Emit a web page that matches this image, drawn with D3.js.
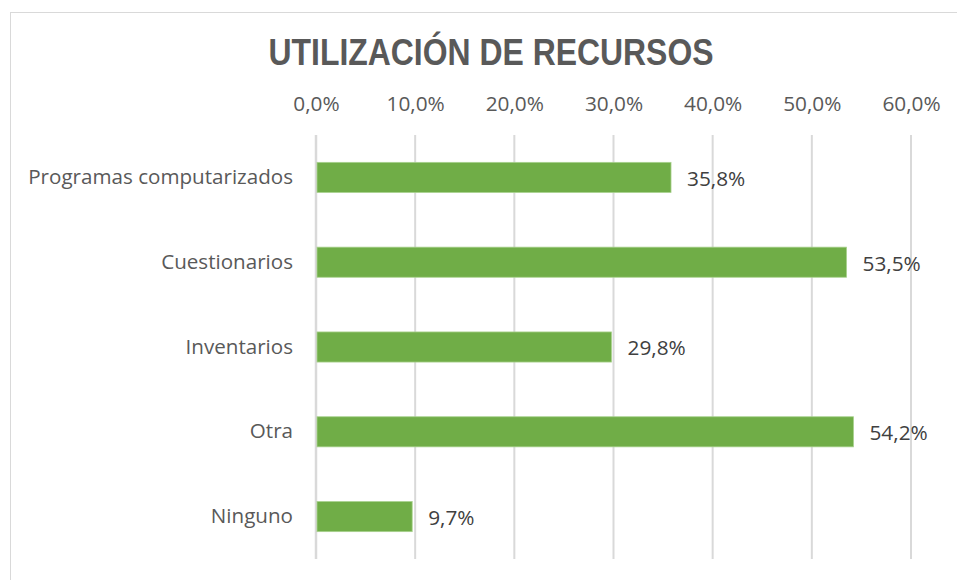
<!DOCTYPE html>
<html>
<head>
<meta charset="utf-8">
<script src="https://cdn.jsdelivr.net/npm/d3@7"></script>
<style>
  body { margin: 0; background: #fff; }
  svg { display: block; }
</style>
</head>
<body>
<svg id="chart"></svg>
<script>
// data
const categories = ["Programas computarizados", "Cuestionarios", "Inventarios", "Otra", "Ninguno"];
const values = [35.8, 53.5, 29.8, 54.2, 9.7];
const ticks = [0, 10, 20, 30, 40, 50, 60];
const title = "UTILIZACIÓN DE RECURSOS";

const width = 957, height = 580;
const plotLeft = 316, plotRight = 911, plotTop = 135, plotBottom = 559;
const fmt = v => d3.format(".1f")(v).replace(".", ",") + "%";

const svg = d3.select("#chart")
    .attr("width", width)
    .attr("height", height);

// chart border
svg.append("rect")
    .attr("x", 10.5).attr("y", 12.5)
    .attr("width", 960).attr("height", 600)
    .attr("fill", "none")
    .attr("stroke", "#d9d9d9");

svg.append("text")
    .attr("x", 491).attr("y", 65)
    .attr("text-anchor", "middle")
    .attr("font-family", "Liberation Sans Narrow, Liberation Sans, Arial, sans-serif")
    .attr("font-weight", "bold")
    .attr("font-size", 37)
    .attr("fill", "#595959")
    .attr("textLength", 445)
    .attr("lengthAdjust", "spacingAndGlyphs")
    .text(title);

const x = d3.scaleLinear().domain([0, 60]).range([plotLeft, plotRight]);
const y = d3.scaleBand().domain(categories).range([plotTop, plotBottom])
    .paddingInner(0.645).paddingOuter(0.3225);

// gridlines
svg.append("g")
    .selectAll("line")
    .data(ticks)
    .join("line")
    .attr("x1", d => x(d)).attr("x2", d => x(d))
    .attr("y1", plotTop).attr("y2", plotBottom)
    .attr("stroke", "#d9d9d9")
    .attr("stroke-width", d => d === 0 ? 2.5 : 2);

// top axis labels
svg.append("g")
    .attr("transform", `translate(0,${plotTop})`)
    .call(d3.axisTop(x).tickValues(ticks).tickSize(0).tickPadding(24).tickFormat(fmt))
    .call(g => g.select(".domain").remove())
    .call(g => g.selectAll("text")
        .attr("font-family", "Open Sans, sans-serif")
        .attr("font-size", 20.8)
        .attr("fill", "#595959"));

// category labels
svg.append("g")
    .attr("transform", `translate(${plotLeft},0)`)
    .call(d3.axisLeft(y).tickSize(0).tickPadding(23))
    .call(g => g.select(".domain").remove())
    .call(g => g.selectAll("text")
        .attr("font-family", "Open Sans, sans-serif")
        .attr("font-size", 20.6)
        .attr("fill", "#595959"));

// bars
svg.append("g")
    .selectAll("rect")
    .data(values)
    .join("rect")
    .attr("x", x(0) + 1)
    .attr("y", (d, i) => y(categories[i]))
    .attr("width", d => x(d) - x(0) - 1)
    .attr("height", y.bandwidth())
    .attr("fill", "#70ad47")
    .attr("stroke", "#a9d18e")
    .attr("stroke-width", 0.8);

// value labels
svg.append("g")
    .selectAll("text")
    .data(values)
    .join("text")
    .attr("x", d => x(d) + 16)
    .attr("y", (d, i) => y(categories[i]) + y.bandwidth() / 2)
    .attr("dy", "0.4em")
    .attr("font-family", "Open Sans, sans-serif")
    .attr("font-size", 20.8)
    .attr("fill", "#404040")
    .text(fmt);
</script>
</body>
</html>
